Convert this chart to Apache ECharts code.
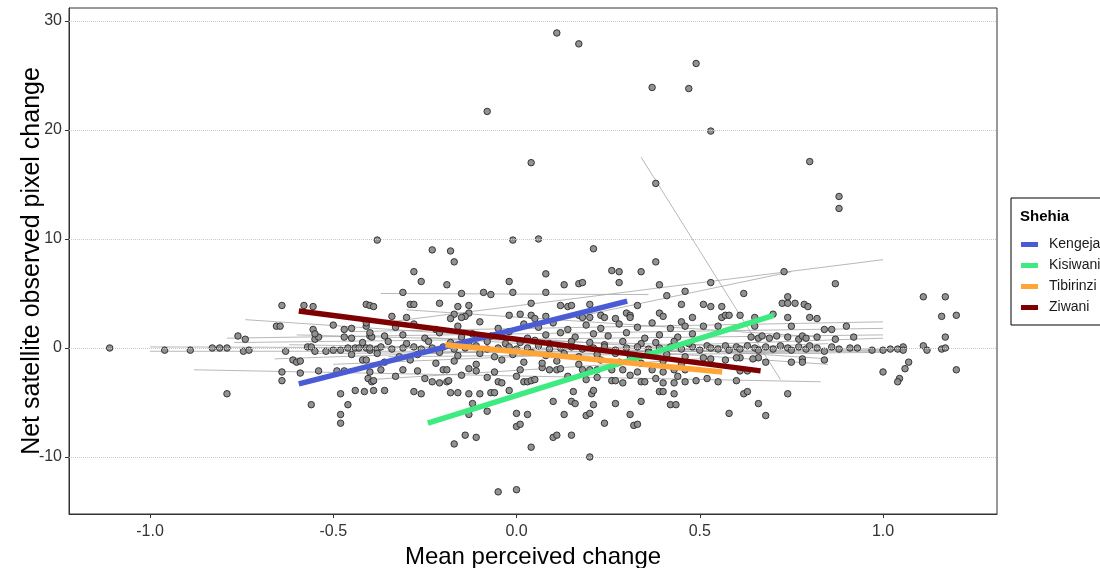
<!DOCTYPE html>
<html><head><meta charset="utf-8">
<script src="https://cdn.jsdelivr.net/npm/echarts@6/dist/echarts.min.js"></script>
<style>html,body{margin:0;padding:0;background:#fff}#c{width:1100px;height:568px}</style>
</head><body><div id="c"></div>
<script>
const xTicks = [-1, -0.5, 0, 0.5, 1];
const yTicks = [-10, 0, 10, 20, 30];
const xRange = [-1.221, 1.311];
const yRange = [-15.23, 31.19];

const points = [
[0.11,28.9],[0.17,27.9],[0.37,23.9],[0.47,23.8],[0.49,26.1],[-0.08,21.7],[0.04,17.0],[0.53,19.9],[0.38,15.1],[0.80,17.1],[0.88,13.9],[0.88,12.8],
[-0.38,9.9],[-0.23,9.0],[-0.18,8.9],[-0.01,9.9],[0.06,10.0],[0.21,9.1],
[-0.17,7.9],[-0.28,7.0],[-0.26,6.1],[-0.19,5.8],[0.08,6.8],[-0.02,6.1],[0.13,5.8],[0.17,5.9],[0.18,6.0],[0.26,7.1],[0.28,7.0],[0.28,6.0],[0.34,7.0],[0.38,7.9],[0.39,5.8],
[-0.31,5.1],[-0.15,5.0],[-0.09,5.1],[-0.07,4.9],[-0.01,5.1],[0.08,5.1],[-0.21,4.1],[-0.29,4.0],[-0.28,4.0],[0.04,4.1],[0.20,4.0],[0.41,4.8],[0.46,5.2],[0.45,4.0],[0.33,3.9],
[-0.34,2.9],[-0.30,2.8],[-0.16,3.8],[-0.17,3.1],[-0.18,2.7],[-0.13,3.2],[-0.14,2.9],[-0.15,2.8],[-0.13,3.9],[0.01,3.1],[-0.02,3.0],[0.04,3.0],[0.05,2.7],[0.08,2.9],[0.12,3.9],[0.14,3.8],[0.15,3.9],[0.17,3.0],[0.18,2.8],[0.20,2.8],[0.23,3.0],[0.24,2.8],[0.27,2.7],[0.30,3.2],[0.31,3.0],[0.31,2.8],[0.39,3.2],[0.40,2.9],[0.45,2.4],
[-0.36,-3.9],[-0.28,-4.0],[-0.26,-4.2],[-0.23,-3.1],[-0.21,-3.2],[-0.19,-3.1],[-0.185,-3.0],[-0.18,-4.1],[-0.16,-4.1],[-0.13,-4.2],[-0.10,-4.2],[-0.07,-4.1],[-0.06,-4.1],[-0.05,-3.1],[-0.04,-3.2],[-0.12,-5.1],[-0.13,-6.1],[-0.08,-5.8],[-0.02,-3.9],[0.02,-3.1],[0.03,-3.1],[0.04,-3.0],[0.00,-6.0],[0.03,-6.1],[0.00,-7.2],[0.01,-7.0],[0.04,-9.1],[0.10,-4.9],[0.10,-8.2],[0.11,-8.0],[0.13,-6.1],[0.15,-4.9],[0.16,-5.1],[0.155,-4.0],[0.15,-8.0],[0.20,-10.0],[0.19,-6.2],[0.20,-6.0],[0.21,-5.2],[0.205,-4.2],[0.21,-3.9],[0.19,-2.9],[0.24,-6.9],[0.27,-5.1],[0.26,-3.0],[0.27,-3.0],[0.29,-3.2],[0.34,-4.9],[0.31,-6.1],[0.32,-7.1],[0.33,-7.0],[0.34,-3.1],[0.35,-3.1],[0.39,-4.0],[0.40,-4.0],[0.40,-3.2],[0.43,-3.2],[0.43,-4.2],[0.42,-5.2],[0.435,-5.2],[0.46,-3.1],[-0.05,-13.2],[0.00,-13.0],[-0.17,-8.8],[-0.14,-8.0],[-0.11,-8.2],
[-0.31,-2.0],[-0.27,-2.1],[-0.20,-2.0],[-0.19,-2.0],[-0.13,-1.9],[-0.11,-2.1],[-0.06,-2.2],[0.01,-2.0],[0.07,-1.8],[0.09,-2.0],[0.11,-2.0],[0.12,-1.9],[0.18,-2.0],[0.20,-2.0],[0.22,-2.0],[0.26,-2.0],[0.29,-2.0],[0.33,-2.2],[0.37,-2.0],[0.40,-2.2],[0.43,-2.0],[0.46,-2.0],
[-1.11,0.0],[-0.96,-0.2],[-0.89,-0.2],[-0.83,0.0],[-0.81,0.0],[-0.79,0.0],[-0.79,-4.2],[-0.76,1.1],[-0.74,0.8],[-0.745,-0.3],[-0.73,-0.2],[-0.64,3.9],[-0.655,2.0],[-0.645,2.0],[-0.63,-0.3],[-0.61,-1.1],[-0.60,-1.3],[-0.59,-1.2],[-0.64,-2.2],[-0.64,-3.0],[-0.59,-2.3],[-0.58,3.9],[-0.555,3.8],[-0.555,1.7],[-0.55,0.8],[-0.54,1.0],[-0.57,0.1],[-0.56,0.1],[-0.55,-0.3],[-0.54,-2.1],[-0.56,-5.2],[-0.52,-0.3],[-0.50,-0.2],[-0.48,-0.2],[-0.46,0.0],[-0.47,1.7],[-0.49,-2.1],[-0.47,-2.1],[-0.48,-4.2],[-0.46,-5.2],[-0.48,-6.1],[-0.48,-6.9],[-0.45,0.9],[-0.44,0.0],[-0.43,0.0],[-0.41,0.0],[-0.42,-1.1],[-0.41,-1.1],[-0.44,-3.9],[-0.415,-4.0],[-0.39,-3.9],[-0.41,4.0],[-0.40,3.9],[-0.39,3.8],[-0.41,2.0],[-0.40,1.1],[-0.395,1.0],[-0.40,-2.2],[-0.405,-2.8],[-0.395,-3.1],[-0.39,-3.0],[-0.40,-0.2],[-0.38,-0.1],[-0.37,-2.0],
[0.73,7.0],[0.87,5.9],[0.53,6.0],[0.62,5.0],[1.11,4.7],[1.17,4.7],[1.16,2.9],[1.20,3.0],[1.17,1.0],[1.20,-2.0],[0.74,4.7],[0.725,4.1],[0.74,4.1],[0.76,4.1],[0.785,4.0],[0.795,3.8],[0.51,4.0],[0.53,3.8],[0.56,3.8],[0.48,2.8],[0.56,2.8],[0.57,3.0],[0.58,3.0],[0.61,3.0],[0.65,2.8],[0.70,3.1],[0.74,2.8],[0.80,2.8],[0.82,2.7],[0.51,2.0],[0.55,2.0],[0.65,2.0],[0.75,2.0],[0.84,1.7],[0.86,1.7],[0.90,2.0],[0.92,1.0],[0.64,1.0],[0.66,0.9],[0.67,1.1],[0.69,0.9],[0.71,1.1],[0.74,1.0],[0.77,0.8],[0.78,1.1],[0.79,0.9],[0.82,1.0],[0.87,0.8],
[0.93,0.0],[0.97,-0.2],[1.00,-0.2],[1.02,-0.1],[1.04,-0.1],[1.055,0.1],[1.055,-0.2],[1.11,0.2],[1.12,-0.2],[1.16,-0.1],[1.17,0.0],[1.07,-1.3],[1.06,-1.9],[1.00,-2.2],[1.045,-2.8],[1.04,-3.1],[0.75,-1.3],[0.78,-1.0],[0.78,-1.3],[0.84,-1.1],[0.68,-1.3],[0.66,-0.9],[0.645,-1.0],[0.61,-0.9],[0.60,-0.9],[0.57,-1.1],[0.53,-1.0],[0.51,-0.9],[0.49,-3.0],[0.52,-2.8],[0.55,-3.1],[0.60,-3.0],[0.62,-4.2],[0.63,-4.0],[0.66,-5.1],[0.74,-4.2],[0.58,-6.0],[0.68,-6.2],[0.61,-2.1],[0.63,-2.1],
[0.48,0.1],[0.50,-0.2],[0.52,0.2],[0.53,0.0],[0.55,-0.1],[0.57,0.2],[0.58,-0.2],[0.60,0.1],[0.61,-0.1],[0.63,0.2],[0.65,0.0],[0.66,-0.2],[0.68,0.1],[0.70,-0.1],[0.72,0.2],[0.74,0.0],[0.75,-0.2],[0.77,0.1],[0.79,-0.1],[0.80,0.2],[0.82,0.0],[0.84,-0.3],[0.86,0.1],[0.88,-0.1],[0.91,0.0],
[-0.50,2.1],[-0.45,1.8],[-0.41,2.3],[-0.33,1.9],[-0.28,2.2],[-0.22,1.7],[-0.16,2.0],[-0.10,2.4],[-0.05,1.8],[0.02,2.2],[0.06,1.9],[0.10,2.3],[0.14,1.7],[0.19,2.1],[0.23,1.8],[0.28,2.2],[0.33,1.9],[0.37,2.3],[0.42,1.8],[0.46,2.0],
[-0.55,1.3],[-0.47,1.0],[-0.40,1.4],[-0.36,1.1],[-0.31,1.2],[-0.25,0.9],[-0.21,1.4],[-0.15,1.0],[-0.12,1.3],[-0.07,1.1],[-0.02,1.5],[0.03,0.9],[0.08,1.2],[0.12,1.4],[0.16,1.0],[0.21,1.3],[0.25,1.1],[0.30,1.4],[0.35,0.9],[0.39,1.2],[0.44,1.0],[0.48,1.3],
[-0.42,0.5],[-0.35,0.6],[-0.30,0.4],[-0.24,0.6],[-0.18,0.5],[-0.13,0.3],[-0.08,0.6],[-0.03,0.4],[0.01,0.5],[0.05,0.7],[0.09,0.4],[0.15,0.6],[0.20,0.5],[0.24,0.3],[0.29,0.6],[0.34,0.4],[0.38,0.5],[0.43,0.6],[0.47,0.4],
[-0.40,0.0],[-0.37,0.1],[-0.34,-0.1],[-0.31,0.0],[-0.28,0.1],[-0.26,-0.1],[-0.23,0.0],[-0.20,0.1],[-0.17,-0.1],[-0.14,0.0],[-0.11,0.2],[-0.08,-0.1],[-0.05,0.0],[-0.02,0.1],[0.00,-0.1],[0.03,0.0],[0.06,0.2],[0.09,-0.1],[0.12,0.0],[0.15,0.1],[0.18,-0.1],[0.21,0.0],[0.24,0.1],[0.27,-0.2],[0.30,0.0],[0.33,0.1],[0.36,-0.1],[0.39,0.0],[0.42,0.1],[0.45,-0.1],
[-0.45,-0.6],[-0.38,-0.5],[-0.32,-0.8],[-0.27,-0.6],[-0.21,-0.4],[-0.16,-0.7],[-0.10,-0.5],[-0.06,-0.8],[-0.01,-0.6],[0.04,-0.4],[0.08,-0.7],[0.13,-0.5],[0.17,-0.8],[0.22,-0.6],[0.27,-0.5],[0.31,-0.7],[0.36,-0.4],[0.41,-0.6],[0.46,-0.8],
[-0.36,-1.3],[-0.29,-1.1],[-0.22,-1.4],[-0.17,-1.2],[-0.11,-1.5],[-0.04,-1.1],[0.02,-1.3],[0.07,-1.4],[0.11,-1.2],[0.17,-1.5],[0.23,-1.1],[0.28,-1.3],[0.34,-1.4],[0.40,-1.2],[0.45,-1.5],
[-0.33,-2.6],[-0.25,-2.8],[-0.15,-2.5],[-0.08,-2.7],[0.00,-2.6],[0.05,-2.9],[0.14,-2.6],[0.22,-2.7],[0.31,-2.5],[0.38,-2.8],[0.44,-2.6]
];

// grey per-group fits: [x1, y1, x2, y2]
const greyLines = [
[-1.0,0.1,1.0,-0.1],
[-1.0,-0.3,1.0,-0.3],
[-0.88,-2.0,0.83,-3.1],
[-0.74,2.6,0.85,-1.0],
[-0.79,0.9,1.0,1.8],
[-0.77,0.5,1.0,1.2],
[-0.66,-1.0,1.0,0.9],
[-0.37,2.3,1.0,8.1],
[-0.37,5.0,0.36,4.9],
[0.0,1.7,0.75,7.0],
[0.34,17.5,0.72,-2.9],
[-0.62,0.3,0.83,-0.5],
[-0.55,-0.5,1.0,-0.2],
[-0.45,1.5,1.0,2.4],
[-0.50,-1.5,0.85,0.4],
[-0.30,3.5,0.83,1.0],
[-0.40,-2.9,0.50,-1.0],
[-0.25,1.0,0.85,-1.5],
[-0.60,1.2,0.80,0.0],
[-0.35,-0.8,1.0,-0.4]
];

const shehiaNames = ['Kengeja', 'Kisiwani', 'Tibirinzi', 'Ziwani'];
const shehiaColors = ['#4A5BD6', '#3DEB80', '#FFA437', '#7F0000'];
const shehiaLines = [
[-0.594,-3.3,0.302,4.3],
[-0.242,-6.9,0.702,3.0],
[-0.194,0.3,0.561,-2.2],
[-0.594,3.4,0.666,-2.1]
];

const FONT = "'Liberation Sans', Arial, sans-serif";
const series = [];
series.push({
  type: 'scatter', data: [], silent: true, z: 1,
  markLine: {
    silent: true, symbol: 'none', label: {show: false},
    lineStyle: {type: 'dotted', color: '#c8c8c8', width: 1},
    data: yTicks.map(v => ({yAxis: v}))
  }
});
greyLines.forEach(l => series.push({
  type: 'line', silent: true, symbol: 'none', z: 2,
  lineStyle: {color: '#a6a6a6', width: 0.8},
  data: [[l[0], l[1]], [l[2], l[3]]]
}));
series.push({
  type: 'scatter', data: points, symbolSize: 6.5, z: 3,
  itemStyle: {color: '#8c8c8c', borderColor: '#2e2e2e', borderWidth: 1, opacity: 0.95}
});
shehiaNames.forEach((n, i) => {
  const l = shehiaLines[i];
  series.push({
    name: n, type: 'line', symbol: 'none', z: 5,
    itemStyle: {color: shehiaColors[i]},
    lineStyle: {color: shehiaColors[i], width: 5.5},
    data: [[l[0], l[1]], [l[2], l[3]]]
  });
});

const chart = echarts.init(document.getElementById('c'), null, {renderer: 'canvas'});
chart.setOption({
  animation: false,
  backgroundColor: '#fff',
  textStyle: {fontFamily: FONT},
  grid: {left: 69, right: 103, top: 8, bottom: 54, show: true, borderColor: '#333', borderWidth: 1, backgroundColor: 'transparent', containLabel: false, outerBoundsMode: 'none'},
  xAxis: {
    type: 'value', min: xRange[0], max: xRange[1],
    axisLine: {show: true, onZero: false, lineStyle: {color: '#333', width: 1}},
    axisTick: {show: true, customValues: xTicks, length: 4, lineStyle: {color: '#333'}},
    axisLabel: {customValues: xTicks, formatter: v => v.toFixed(1), fontSize: 16, color: '#333', margin: 10, fontFamily: FONT},
    splitLine: {show: false},
    name: 'Mean perceived change', nameLocation: 'middle', nameGap: 27,
    nameTextStyle: {fontSize: 24, color: '#000', fontFamily: FONT}
  },
  yAxis: {
    type: 'value', min: yRange[0], max: yRange[1],
    axisLine: {show: true, onZero: false, lineStyle: {color: '#333', width: 1}},
    axisTick: {show: true, customValues: yTicks, length: 4, lineStyle: {color: '#333'}},
    axisLabel: {customValues: yTicks, fontSize: 16, color: '#333', margin: 7, fontFamily: FONT},
    splitLine: {show: false},
    name: 'Net satellite observed pixel change', nameLocation: 'middle', nameGap: 24, nameRotate: 90,
    nameMoveOverlap: false,
    nameTextStyle: {fontSize: 25, color: '#000', fontFamily: FONT}
  },
  legend: {
    data: shehiaNames, orient: 'vertical', left: 1011, top: 198,
    padding: [39, 14, 10, 10], itemGap: 6,
    borderColor: '#000', borderWidth: 1, backgroundColor: '#fff',
    icon: 'rect', itemWidth: 17, itemHeight: 5,
    textStyle: {fontSize: 14, color: '#1a1a1a', fontFamily: FONT, lineHeight: 15, padding: [0, 0, 0, 6]},
    selectedMode: false
  },
  graphic: [{
    type: 'text', left: 1020, top: 209, z: 100,
    style: {text: 'Shehia', font: "bold 15px 'Liberation Sans', Arial, sans-serif", fill: '#000'}
  }],
  series: series
});
</script>
</body></html>
